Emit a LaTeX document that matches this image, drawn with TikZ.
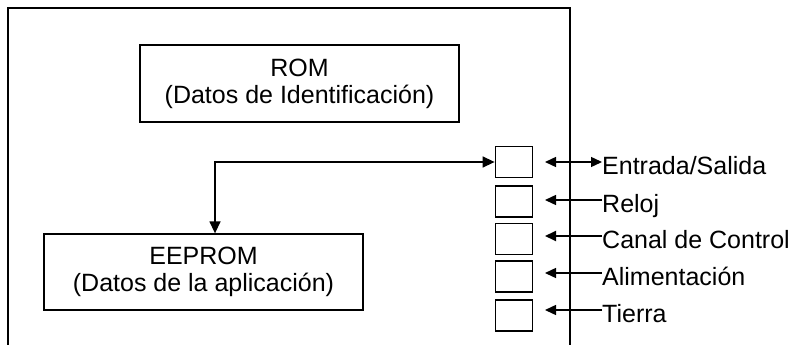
\documentclass[tikz,border=0pt]{standalone}
\usepackage{fontspec}
\setmainfont{Liberation Sans}
\usetikzlibrary{arrows.meta}
\begin{document}
\begin{tikzpicture}[x=1pt,y=-1pt,
  every node/.style={font=\fontsize{25}{27}\selectfont},
  membox/.style={draw,line width=1.3pt,minimum width=319pt,inner sep=0pt,align=center},
  pinbox/.style={draw,line width=1.8pt,minimum width=37pt,minimum height=31pt,inner sep=0pt},
  pinlabel/.style={anchor=west,inner sep=0pt,text height=24pt,text depth=0pt},
  frameline/.style={line width=1.6pt},
  sig/.style={line width=1.4pt,-{Triangle[length=11pt,width=10pt]}},
  sigboth/.style={line width=1.4pt,{Triangle[length=11pt,width=10pt]}-{Triangle[length=11pt,width=10pt]}},
  bus/.style={line width=1.4pt,{Triangle[length=12pt,width=11pt]}-{Triangle[length=12pt,width=11pt]}}]
\useasboundingbox (0,0) rectangle (795,345);
% frame
\draw[frameline] (8,345) -- (8,8) -- (570,8) -- (570,345);
% memories
\node[membox,minimum height=77pt] (rom) at (299.5,83.5) {ROM\\(Datos de Identificación)};
\node[membox,minimum height=76pt] (eeprom) at (203.5,272) {EEPROM\\(Datos de la aplicación)};
% pins
\node[pinbox] (p1) at (514,162) {};
\node[pinbox] (p2) at (514,201.5) {};
\node[pinbox] (p3) at (514,239) {};
\node[pinbox] (p4) at (514,276.5) {};
\node[pinbox] (p5) at (514,315.5) {};
% labels
\node[pinlabel] (l1) at (602,162) {Entrada/Salida};
\node[pinlabel] (l2) at (602,200) {Reloj};
\node[pinlabel] (l3) at (602,236) {Canal de Control};
\node[pinlabel] (l4) at (602,273) {Alimentación};
\node[pinlabel] (l5) at (602,310) {Tierra};
\coordinate (tip) at (545,0);
\coordinate (cx) at (215,0);
% connectors
\draw[sigboth] (l1.west) -- (l1.west -| tip);
\draw[sig] (l2.west) -- (l2.west -| tip);
\draw[sig,line width=2pt] (l3.west) -- (l3.west -| tip);
\draw[sig] (l4.west) -- (l4.west -| tip);
\draw[sig] (l5.west) -- (l5.west -| tip);
\draw[bus] (cx |- eeprom.north) |- (p1.west);
\end{tikzpicture}
\end{document}
